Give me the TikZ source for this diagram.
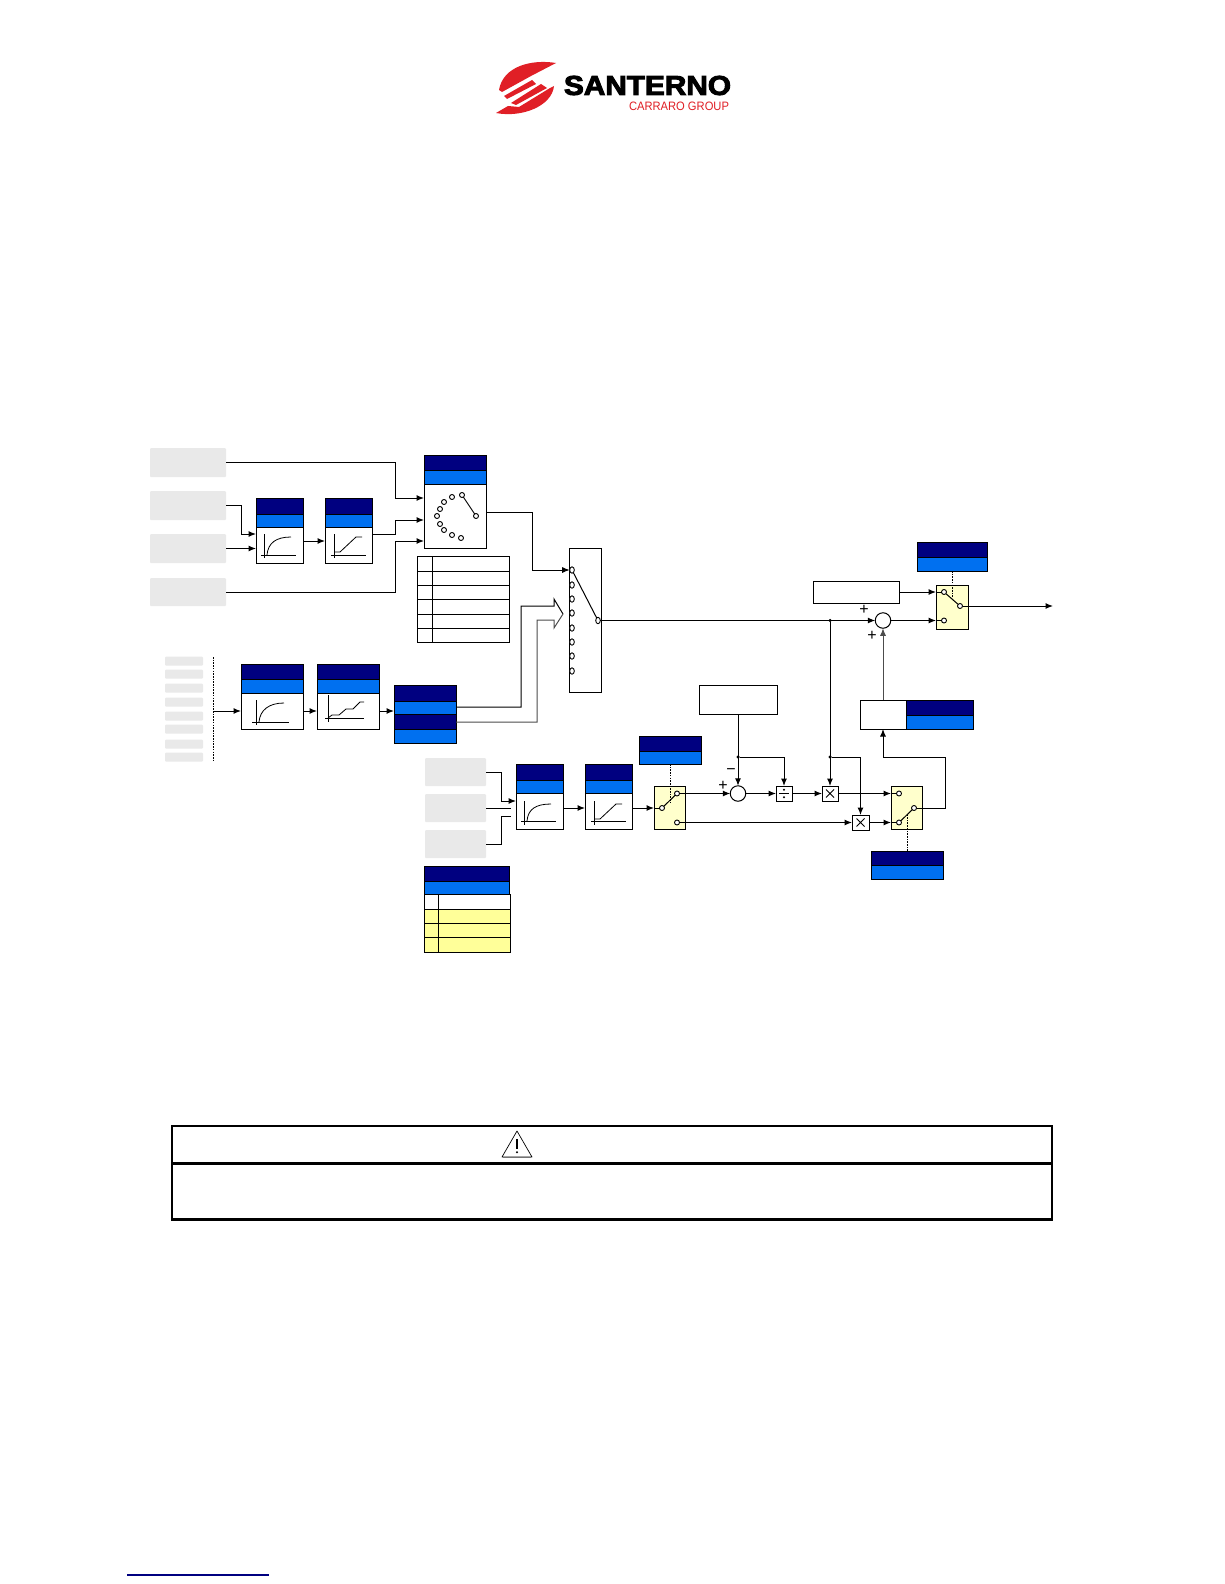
\documentclass[tikz,border=0pt]{standalone}
\usepackage{fontspec}
\setmainfont{Liberation Sans}
\newfontfamily\logofont[FakeBold=3.5]{Liberation Sans Bold}
\usetikzlibrary{arrows.meta,shapes.geometric,calc}
\definecolor{navy}{HTML}{000080}
\definecolor{azure}{HTML}{0070F0}
\definecolor{ghost}{HTML}{E9E9E9}
\definecolor{sw}{HTML}{FFFFCC}
\definecolor{tabY}{HTML}{FFFF99}
\definecolor{logored}{HTML}{E01F26}
\tikzset{
  every node/.style={inner sep=0pt,outer sep=0pt},
  whitebox/.style={draw=black,fill=white,line width=1pt},
  darkbar/.style={draw=black,fill=navy,line width=1pt},
  bluebar/.style={draw=black,fill=azure,line width=1pt},
  swbox/.style={draw=black,fill=sw,line width=1pt},
  cellY/.style={draw=black,fill=tabY,line width=1pt},
  ghostbox/.style={fill=ghost,rounded corners=1pt},
  pin/.style={circle,draw=black,fill=white,line width=.9pt,minimum size=5pt},
  ovalpin/.style={ellipse,draw=black,fill=white,line width=.9pt,minimum width=4.6pt,minimum height=6.4pt},
  sumnode/.style={circle,draw=black,fill=white,line width=1pt,minimum size=15.5pt},
  dotnode/.style={circle,fill=black,minimum size=3.5pt},
  wire/.style={draw=black,line width=1pt},
  arr/.style={wire,-{Latex[length=7.5pt,width=6pt]}},
  greywire/.style={draw=black!70,line width=1pt},
  curve/.style={draw=black,line width=.8pt},
  ctrl/.style={draw=black,line width=1pt,dash pattern=on 1.6pt off 1.1pt},
  sign/.style={font=\fontsize{16}{16}\selectfont}
}
\newcommand{\bx}[6]{%
  \pgfmathsetmacro\bw{(#5)-(#3)}\pgfmathsetmacro\bh{(#6)-(#4)}%
  \pgfmathsetmacro\cx{((#3)+(#5))/2}\pgfmathsetmacro\cy{((#4)+(#6))/2}%
  \node[#2,minimum width=\bw pt,minimum height=\bh pt] (#1) at (\cx,\cy) {};}
\begin{document}
\begin{tikzpicture}[x=1pt,y=-1pt]
\useasboundingbox (0,0) rectangle (1224,1584);
\fill[white] (0,0) rectangle (1224,1584);

% logo
\fill[logored] (556,63) .. controls (532,59) and (503,66) .. (499,90) -- (502,92) -- (531,76) -- cycle;
\fill[logored] (504,96) -- (507,99) -- (536,84) -- (532,80) -- cycle;
\fill[logored] (511,103) -- (516,105) -- (547,88) -- (541,84) -- cycle;
\fill[logored] (496,113) .. controls (522,118) and (552,106) .. (554,86) -- (550,88) -- (519,107) -- (508,106) -- cycle;
\node[anchor=west] (logoName) at (564,85.5) {\resizebox{167pt}{19pt}{\logofont SANTERNO}};
\node[anchor=west,text=logored] (logoGroup) at (629,106.5) {\resizebox{100pt}{8.5pt}{CARRARO GROUP}};

% inputs, top group
\bx{gA}{ghostbox}{150}{448}{226}{477}
\bx{gB}{ghostbox}{150}{491}{226}{520}
\bx{gC}{ghostbox}{150}{534}{226}{563}
\bx{gD}{ghostbox}{150}{578}{226}{606}

% ramp box 1 and 2
\bx{rA}{whitebox}{256}{498}{303}{563}
\bx{rAd}{darkbar}{256}{498}{303}{514}
\bx{rAb}{bluebar}{256}{514}{303}{527}
\bx{rB}{whitebox}{325}{498}{372}{563}
\bx{rBd}{darkbar}{325}{498}{372}{514}
\bx{rBb}{bluebar}{325}{514}{372}{527}
\draw[curve] (264,534) -- (264,558) (261,555) -- (296,555);
\draw[curve] (267,555) .. controls (268,543) and (276,537) .. (291,537);
\draw[curve] (334,534) -- (334,558) (331,555) -- (366,555);
\draw[curve] (334,552) -- (340,552) -- (356,537) -- (362,537);

% selector
\bx{sel}{whitebox}{424}{455}{486}{548}
\bx{selD}{darkbar}{424}{455}{486}{470}
\bx{selB}{bluebar}{424}{470}{486}{484}
\node[pin] (q1) at (462,495) {};
\node[pin] (q2) at (452,497) {};
\node[pin] (q3) at (444,502) {};
\node[pin] (q4) at (440,509) {};
\node[pin] (q5) at (437,516) {};
\node[pin] (q6) at (440,524) {};
\node[pin] (q7) at (444,530) {};
\node[pin] (q8) at (452,535) {};
\node[pin] (q9) at (461,538) {};
\node[pin] (qo) at (476,516) {};
\draw[wire,line width=.9pt] (q1) -- (qo);

% table 1
\foreach \ya/\yb [count=\i] in {556/571,571/585,585/599,599/614,614/628,628/642}{
  \bx{tl\i}{whitebox}{417}{\ya}{432}{\yb}
  \bx{tr\i}{whitebox}{432}{\ya}{509}{\yb}
}

% small inputs
\foreach \yy [count=\i] in {661,674,688,702,716,729,744,757}{
  \bx{sg\i}{ghostbox}{165}{\yy-4.5}{203}{\yy+4.5}
}
\coordinate (dotT) at (213,657);
\coordinate (dotM) at (213,711);
\coordinate (dotE) at (213,762);
\draw[ctrl] (dotT) -- (dotE);

% box 3, 4, double header
\bx{rC}{whitebox}{241}{664}{303}{729}
\bx{rCd}{darkbar}{241}{664}{303}{679}
\bx{rCb}{bluebar}{241}{679}{303}{693}
\bx{rD}{whitebox}{317}{664}{379}{729}
\bx{rDd}{darkbar}{317}{664}{379}{679}
\bx{rDb}{bluebar}{317}{679}{379}{693}
\draw[curve] (256,700) -- (256,725) (252,722) -- (289,722);
\draw[curve] (259,722) .. controls (260,710) and (269,703) .. (284,703);
\draw[curve] (328,695) -- (328,722) (325,718) -- (364,718);
\draw[curve] (328,718) -- (332,715) -- (339,715) -- (346,709) -- (353,709) -- (360,702) -- (364,702);
\bx{dbA}{darkbar}{394}{685}{456}{701}
\bx{dbB}{bluebar}{394}{701}{456}{714}
\bx{dbC}{darkbar}{394}{714}{456}{729}
\bx{dbD}{bluebar}{394}{729}{456}{743}

% main switch
\bx{mux}{whitebox}{569}{548}{601}{692}
\foreach \yy [count=\i] in {570,585,599,613,628,642,656,671}{
  \node[ovalpin] (m\i) at (572,\yy) {};
}
\node[ovalpin] (mo) at (598,620.5) {};
\draw[wire] (m1) -- (mo);

% lower inputs
\bx{gE}{ghostbox}{425}{758}{486}{786}
\bx{gF}{ghostbox}{425}{794}{486}{822}
\bx{gG}{ghostbox}{425}{830}{486}{858}

% box 5, 6
\bx{rE}{whitebox}{516}{764}{563}{829}
\bx{rEd}{darkbar}{516}{764}{563}{780}
\bx{rEb}{bluebar}{516}{780}{563}{793}
\bx{rF}{whitebox}{585}{764}{632}{829}
\bx{rFd}{darkbar}{585}{764}{632}{780}
\bx{rFb}{bluebar}{585}{780}{632}{793}
\draw[curve] (524,801) -- (524,825) (521,821) -- (556,821);
\draw[curve] (527,821) .. controls (528,809) and (536,804) .. (551,804);
\draw[curve] (594,801) -- (594,825) (591,821) -- (626,821);
\draw[curve] (594,819) -- (600,819) -- (616,804) -- (622,804);

% bottom table
\bx{bhD}{darkbar}{424}{866}{509}{881}
\bx{bhB}{bluebar}{424}{881}{509}{894}
\bx{bl1}{whitebox}{424}{894}{438}{909}
\bx{br1}{whitebox}{438}{894}{510}{909}
\foreach \ya/\yb [count=\i from 2] in {909/923,923/937,937/952}{
  \bx{bl\i}{cellY}{424}{\ya}{438}{\yb}
  \bx{br\i}{cellY}{438}{\ya}{510}{\yb}
}

% switch Y (left)
\bx{pYd}{darkbar}{639}{736}{701}{751}
\bx{pYb}{bluebar}{639}{751}{701}{764}
\bx{swY}{swbox}{654}{786}{685}{829}
\node[pin] (a1) at (662,808) {};
\node[pin] (a2) at (677,793.5) {};
\node[pin] (a3) at (677,822.5) {};
\draw[wire] (a1) -- (a2);
\coordinate (swYc) at (670,803);
\draw[ctrl] (pYb.south) -- (swYc);

% switch bottom right
\bx{pBd}{darkbar}{871}{851}{943}{865}
\bx{pBb}{bluebar}{871}{865}{943}{879}
\bx{swB}{swbox}{891}{786}{922}{829}
\node[pin] (b1) at (899,793.5) {};
\node[pin] (b2) at (899,822.5) {};
\node[pin] (bo) at (914,808) {};
\draw[wire] (b2) -- (bo);
\coordinate (swBc) at (907,815);
\draw[ctrl] (pBd.north) -- (swBc);

% switch top right
\bx{pTd}{darkbar}{917}{542}{987}{557}
\bx{pTb}{bluebar}{917}{557}{987}{571}
\bx{swT}{swbox}{936}{585}{968}{629}
\node[pin] (c1) at (944,592) {};
\node[pin] (c2) at (960,606) {};
\node[pin] (c3) at (944,620.5) {};
\draw[wire] (c1) -- (c2);
\coordinate (swTc) at (952,598);
\draw[ctrl] (pTb.south) -- (swTc);

% other boxes
\bx{topB}{whitebox}{813}{581}{899}{603}
\bx{kB}{whitebox}{699}{685}{777}{714}
\bx{wB}{whitebox}{860}{700}{906}{729}
\bx{wBd}{darkbar}{906}{700}{973}{715}
\bx{wBb}{bluebar}{906}{715}{973}{729}
\node[sumnode] (sumT) at (883,620.5) {};
\node[sumnode] (sumL) at (738,793.5) {};
\bx{divB}{whitebox}{776}{786}{792}{801}
\bx{mulA}{whitebox}{822}{786}{838}{801}
\bx{mulB}{whitebox}{852}{815}{869}{830}
\draw[line width=.9pt] (779,793.5) -- (789,793.5);
\fill (784,789.8) circle (1.1pt) (784,797.2) circle (1.1pt);
\draw[line width=.8pt] (826,789.5) -- (834,797.5) (826,797.5) -- (834,789.5);
\draw[line width=.8pt] (856.5,818.5) -- (864.5,826.5) (856.5,826.5) -- (864.5,818.5);
\node[dotnode] (dA) at (830,620.5) {};
\node[dotnode] (dB) at (830,757) {};
\node[dotnode] (dK) at (738,757) {};
\node[sign] (pl1) at (864,610) {+};
\node[sign] (pl2) at (872,636) {+};
\node[sign] (pl3) at (723,786) {+};
\node[sign] (mn1) at (731,771.5) {−};

% pins on box edges
\coordinate (selIa) at (424,498);
\coordinate (selIb) at (424,520);
\coordinate (selIc) at (424,541);
\coordinate (rAia) at (256,534);
\coordinate (rAib) at (256,548.5);
\coordinate (rAo) at (303,541);
\coordinate (rBi) at (325,541);
\coordinate (rBo) at (372,534);
\coordinate (selO) at (486,512);
\coordinate (rCi) at (241,711);
\coordinate (rCo) at (303,711);
\coordinate (rDi) at (317,711);
\coordinate (rDo) at (379,711);
\coordinate (dbI) at (394,711);
\coordinate (dbO1) at (456,707);
\coordinate (dbO2) at (456,722);
\coordinate (rEa) at (516,801);
\coordinate (stubB) at (511,808);
\coordinate (stubC) at (511,816);
\coordinate (rEo) at (563,808);
\coordinate (rFi) at (585,808);
\coordinate (rFo) at (632,808);
\coordinate (swYi) at (654,808);
\coordinate (swBa) at (891,793.5);
\coordinate (swBb) at (891,822.5);
\coordinate (swTa) at (936,592);
\coordinate (swTb) at (936,620.5);
\coordinate (outEnd) at (1053,606);
\coordinate (headTip) at (563,614);

% connectors
\draw[arr] (gA.east) -| (395,498) -- (selIa);
\draw[arr] (gB.east) -| (241,534) -- (rAia);
\draw[arr] (gC.east) -- (rAib);
\draw[arr] (rAo) -- (rBi);
\draw[arr] (rBo) -| (395,520) -- (selIb);
\draw[arr] (gD.east) -| (395,541) -- (selIc);
\draw[arr] (selO) -| (532,570) -- (m1.west);
\draw[arr] (dotM) -- (rCi);
\draw[arr] (rCo) -- (rDi);
\draw[arr] (rDo) -- (dbI);
\draw[wire] (dbO1) -| (521,606) -- (554,606) -- (554,599) -- (headTip);
\draw[greywire] (dbO2) -| (537,620) -- (554,620) -- (554,628) -- (headTip);
\draw[arr] (mo.east) -- (sumT.west);
\draw[arr] (gE.east) -| (501,801) -- (rEa);
\draw[wire] (gF.east) -- (stubB);
\draw[wire] (gG.east) -| (501,816) -- (stubC);
\draw[arr] (rEo) -- (rFi);
\draw[arr] (rFo) -- (swYi);
\draw[wire] (swYi) -- (a1.west);
\draw[arr] (a2.east) -- (sumL.west);
\draw[arr] (sumL.east) -- (divB.west);
\draw[arr] (divB.east) -- (mulA.west);
\draw[arr] (mulA.east) -- (swBa);
\draw[wire] (swBa) -- (b1.west);
\draw[arr] (a3.east) -- (mulB.west);
\draw[arr] (mulB.east) -- (swBb);
\draw[wire] (swBb) -- (b2.west);
\draw[arr] (kB.south) -- (sumL.north);
\draw[arr] (dK) -| (divB.north);
\draw[arr] (dA) -- (mulA.north);
\draw[arr] (dB) -| (mulB.north);
\draw[arr] (bo.east) -| (945,757) -| (wB.south);
\draw[arr,draw=black!70] (wB.north) -- (sumT.south);
\draw[arr] (topB.east) -- (swTa);
\draw[wire] (swTa) -- (c1.west);
\draw[arr] (sumT.east) -- (swTb);
\draw[wire] (swTb) -- (c3.west);
\draw[arr] (c2.east) -- (outEnd);

% warning box
\bx{warnTop}{draw=black,line width=2.6pt}{172}{1126}{1052}{1163.5}
\bx{warnBody}{draw=black,line width=2.6pt}{172}{1163.5}{1052}{1219.5}
\draw[line width=.7pt,line join=round] (517,1131) -- (532,1157) -- (502,1157) -- cycle;
\draw[line width=1.6pt,black!55] (503,1157.5) -- (531,1157.5);
\draw[line width=1.1pt] (517,1139) -- (517,1149);
\fill (517,1152.3) circle (1.1pt);

% footer rule
\coordinate (footL) at (127,1575);
\coordinate (footR) at (269,1575);
\draw[navy,line width=1.3pt] (footL) -- (footR);
\end{tikzpicture}
\end{document}
